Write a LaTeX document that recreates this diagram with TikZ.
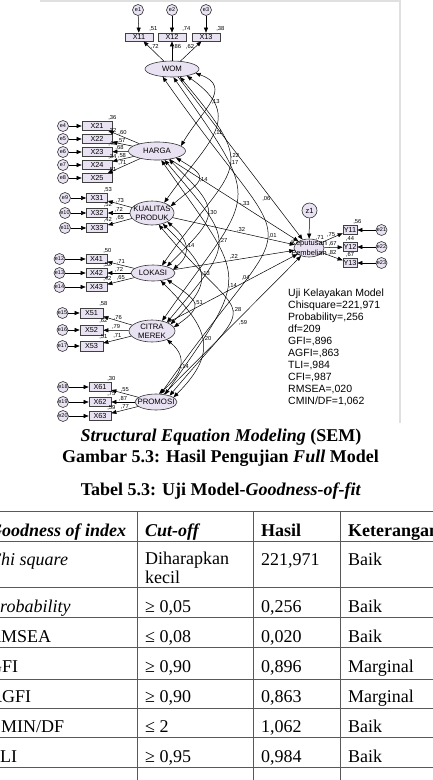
\documentclass[tikz,border=0pt]{standalone}
\usepackage{fontspec}
\setmainfont{Liberation Serif}
\newfontfamily\amosfont{Liberation Sans}
\usepackage{tikz}
\usetikzlibrary{shapes.geometric}
\usetikzlibrary{arrows.meta}
\usepackage{xcolor}
\definecolor{lav}{RGB}{233,226,243}

\tikzset{
  latent/.style={ellipse, draw=black!80, fill=lav, line width=0.6pt, inner sep=0pt},
  ltxt/.style={font=\amosfont\fontsize{7.8}{9}\selectfont, align=center, inner sep=0pt},
  obs/.style={rectangle, draw=black!75, fill=lav, line width=0.7pt, inner sep=0pt, minimum height=9pt, font=\amosfont\fontsize{7.3}{8}\selectfont},
  err/.style={circle, draw=black!80, fill=lav, line width=0.6pt, inner sep=0pt, minimum size=11pt, font=\amosfont\fontsize{5.5}{6}\selectfont},
  reg/.style={-{Triangle[length=5pt,width=4pt]}, line width=0.5pt},
  cov/.style={{Triangle[length=5pt,width=4pt]}-{Triangle[length=5pt,width=4pt]}, line width=0.5pt},
  num/.style={font=\amosfont\fontsize{5.8}{6}\selectfont, inner sep=0.8pt},
  r2/.style={num, anchor=south},
  capline/.style={anchor=base, inner sep=0pt, font=\bfseries\fontsize{18}{20}\selectfont},
  cell/.style={anchor=base west, inner sep=0pt, font=\fontsize{18}{20}\selectfont},
  tabline/.style={draw=black!65, line width=0.8pt}
}

\begin{document}
\begin{tikzpicture}[x=1pt,y=-1pt]
\useasboundingbox (0,0) rectangle (433,780);

\draw[black!12, line width=1.2pt] (40,1) -- (400,1) -- (400,423);

\node[latent, minimum width=54pt, minimum height=16pt] (wom) at (172,69) {};
\node[ltxt] (womtext) at (wom) {WOM};
\node[latent, minimum width=57pt, minimum height=18pt] (harga) at (157,151) {};
\node[ltxt] (hargatext) at (harga) {HARGA};
\node[latent, minimum width=44pt, minimum height=24pt] (kual) at (152,213) {};
\node[ltxt] (kualtext) at (kual) {KUALITAS\\PRODUK};
\node[latent, minimum width=44pt, minimum height=16pt] (lok) at (153,273) {};
\node[ltxt] (loktext) at (lok) {LOKASI};
\node[latent, minimum width=46pt, minimum height=22pt] (cit) at (152,331) {};
\node[ltxt] (cittext) at (cit) {CITRA\\MEREK};
\node[latent, minimum width=42pt, minimum height=16pt] (prom) at (156,402) {};
\node[ltxt] (promtext) at (prom) {PROMOSI};
\node[latent, minimum width=30pt, minimum height=18pt, label={[r2]north east:{,71}}] (kp) at (309,248) {};
\node[ltxt, font=\amosfont\fontsize{7.5}{9.5}\selectfont] (kptext) at (kp) {Keputusan\\Pembelian};
\node[err, minimum size=15pt, font=\amosfont\fontsize{7.5}{8}\selectfont] (z1) at (309.5,210.5) {z1};

\node[err] (e1) at (138,10) {e1};
\node[err] (e2) at (172,10) {e2};
\node[err] (e3) at (206,10) {e3};
\node[obs, minimum width=28pt, minimum height=8pt, label={[r2]north east:{,51}}] (x11) at (139,37) {X11};
\node[obs, minimum width=28pt, minimum height=8pt, label={[r2]north east:{,74}}] (x12) at (172,37) {X12};
\node[obs, minimum width=28pt, minimum height=8pt, label={[r2]north east:{,38}}] (x13) at (206,37) {X13};
\draw[reg] (e1) -- (x11);
\draw[reg] (e2) -- (x12);
\draw[reg] (e3) -- (x13);
\draw[reg] (wom) -- node[num, pos=.7, right] {,72} (x11);
\draw[reg] (wom) -- node[num, pos=.7, right] {,86} (x12);
\draw[reg] (wom) -- node[num, pos=.7, left] {,62} (x13);

\node[err] (e4) at (63,126) {e4};
\node[err] (e5) at (63,139) {e5};
\node[err] (e6) at (63,152) {e6};
\node[err] (e7) at (63,165) {e7};
\node[err] (e8) at (63,178) {e8};
\node[obs, minimum width=30pt, label={[r2]north east:{,36}}] (x21) at (97,126) {X21};
\node[obs, minimum width=30pt, label={[r2]north east:{,32}}] (x22) at (97,139) {X22};
\node[obs, minimum width=30pt, label={[r2]north east:{,46}}] (x23) at (97,152) {X23};
\node[obs, minimum width=30pt, label={[r2]north east:{,34}}] (x24) at (97,165) {X24};
\node[obs, minimum width=30pt, label={[r2]north east:{,51}}] (x25) at (97,178) {X25};
\draw[reg] (e4) -- (x21);
\draw[reg] (e5) -- (x22);
\draw[reg] (e6) -- (x23);
\draw[reg] (e7) -- (x24);
\draw[reg] (e8) -- (x25);
\draw[reg] (harga) -- node[num, pos=.55, above] {,60} (x21);
\draw[reg] (harga) -- node[num, pos=.55, above] {,57} (x22);
\draw[reg] (harga) -- node[num, pos=.55, above] {,68} (x23);
\draw[reg] (harga) -- node[num, pos=.55, above] {,58} (x24);
\draw[reg] (harga) -- node[num, pos=.55, above] {,71} (x25);

\node[err] (e9) at (65,198) {e9};
\node[err] (e10) at (65,213) {e10};
\node[err] (e11) at (65,228) {e11};
\node[obs, minimum width=21pt, label={[r2]north east:{,53}}] (x31) at (97,198) {X31};
\node[obs, minimum width=21pt, label={[r2]north east:{,52}}] (x32) at (97,213) {X32};
\node[obs, minimum width=21pt, label={[r2]north east:{,42}}] (x33) at (97,228) {X33};
\draw[reg] (e9) -- (x31);
\draw[reg] (e10) -- (x32);
\draw[reg] (e11) -- (x33);
\draw[reg] (kual) -- node[num, pos=.5, above] {,73} (x31);
\draw[reg] (kual) -- node[num, pos=.5, above] {,72} (x32);
\draw[reg] (kual) -- node[num, pos=.5, above] {,65} (x33);

\node[err] (e12) at (59.5,259) {e12};
\node[err] (e13) at (59.5,273) {e13};
\node[err] (e14) at (59.5,287) {e14};
\node[obs, minimum width=21pt, label={[r2]north east:{,50}}] (x41) at (96.5,259) {X41};
\node[obs, minimum width=21pt, label={[r2]north east:{,52}}] (x42) at (96.5,273) {X42};
\node[obs, minimum width=21pt, label={[r2]north east:{,42}}] (x43) at (96.5,287) {X43};
\draw[reg] (e12) -- (x41);
\draw[reg] (e13) -- (x42);
\draw[reg] (e14) -- (x43);
\draw[reg] (lok) -- node[num, pos=.5, above] {,71} (x41);
\draw[reg] (lok) -- node[num, pos=.5, above] {,72} (x42);
\draw[reg] (lok) -- node[num, pos=.5, above] {,65} (x43);

\node[err] (e15) at (62.5,313) {e15};
\node[err] (e16) at (62.5,330) {e16};
\node[err] (e17) at (62.5,346) {e17};
\node[obs, minimum width=23pt, minimum height=10pt, label={[r2]north east:{,58}}] (x51) at (91.5,313) {X51};
\node[obs, minimum width=23pt, minimum height=10pt, label={[r2]north east:{,62}}] (x52) at (91.5,330) {X52};
\node[obs, minimum width=23pt, minimum height=10pt, label={[r2]north east:{,51}}] (x53) at (91.5,346) {X53};
\draw[reg] (e15) -- (x51);
\draw[reg] (e16) -- (x52);
\draw[reg] (e17) -- (x53);
\draw[reg] (cit) -- node[num, pos=.5, above] {,76} (x51);
\draw[reg] (cit) -- node[num, pos=.5, above] {,79} (x52);
\draw[reg] (cit) -- node[num, pos=.5, above] {,71} (x53);

\node[err] (e18) at (63,387) {e18};
\node[err] (e19) at (63,402) {e19};
\node[err] (e20) at (63,416) {e20};
\node[obs, minimum width=22pt, label={[r2]north east:{,30}}] (x61) at (100,387) {X61};
\node[obs, minimum width=22pt, label={[r2]north east:{,75}}] (x62) at (100,402) {X62};
\node[obs, minimum width=22pt, label={[r2]north east:{,59}}] (x63) at (100,416) {X63};
\draw[reg] (e18) -- (x61);
\draw[reg] (e19) -- (x62);
\draw[reg] (e20) -- (x63);
\draw[reg] (prom) -- node[num, pos=.5, above] {,55} (x61);
\draw[reg] (prom) -- node[num, pos=.5, above] {,87} (x62);
\draw[reg] (prom) -- node[num, pos=.5, above] {,77} (x63);

\node[obs, minimum width=14pt, label={[r2]north east:{,56}}] (y11) at (350,230) {Y11};
\node[obs, minimum width=14pt, label={[r2]north:{,44}}] (y12) at (350,247) {Y12};
\node[obs, minimum width=14pt, label={[r2]north:{,67}}] (y13) at (350,263) {Y13};
\node[err] (e21) at (381.5,230) {e21};
\node[err] (e22) at (381.5,247) {e22};
\node[err] (e23) at (381.5,263) {e23};
\draw[reg] (e21) -- (y11);
\draw[reg] (e22) -- (y12);
\draw[reg] (e23) -- (y13);
\draw[reg] (kp) -- node[num, pos=.45, above] {,75} (y11);
\draw[reg] (kp) -- node[num, pos=.45, above] {,67} (y12);
\draw[reg] (kp) -- node[num, pos=.5, above] {,82} (y13);
\draw[reg] (z1) -- (kp);

\draw[reg] (wom) -- node[num, pos=.75, left] {,06} (kp);
\draw[reg] (harga) -- node[num, pos=.58, above] {-,33} (kp);
\draw[reg] (kual) -- node[num, pos=.56, above] {,32} (kp);
\draw[reg] (lok) -- node[num, pos=.5, above] {,22} (kp);
\draw[reg] (cit) -- node[num, pos=.6, above] {,04} (kp);
\draw[reg] (prom) -- node[num, pos=.54, below right] {,59} (kp);

\draw[cov] (wom.-10) to[out=-20, in=60, distance=41pt] node[num, right] {,13} (harga.12);
\draw[cov] (wom.-25) to[out=-35, in=55, distance=73pt] node[num, right] {,11} (kual.40);
\draw[cov] (wom.-45) to[out=-50, in=55, distance=127pt] node[num, pos=.4, right] {,22} (lok.40);
\draw[cov] (wom.-80) to[out=-55, in=55, distance=161pt] node[num, pos=.3, right] {,17} (cit.45);
\draw[cov] (wom.-140) to[out=-55, in=55, distance=246pt] node[num, right] {,01} (prom.60);
\draw[cov] (harga.-20) to[out=-30, in=40, distance=41pt] node[num, right] {,14} (kual.20);
\draw[cov] (harga.-35) to[out=-45, in=45, distance=75pt] node[num, right] {,30} (lok.25);
\draw[cov] (harga.-50) to[out=-50, in=50, distance=109pt] node[num, right] {,27} (cit.30);
\draw[cov] (harga.-65) to[out=-55, in=55, distance=151pt] node[num, pos=.55, right] {,14} (prom.40);
\draw[cov] (kual.-30) to[out=-40, in=40, distance=26pt] node[num, right] {,14} (lok.10);
\draw[cov] (kual.-45) to[out=-45, in=45, distance=64pt] node[num, right] {,13} (cit.20);
\draw[cov] (kual.-60) to[out=-50, in=50, distance=141pt] node[num, right] {,28} (prom.25);
\draw[cov] (lok.-25) to[out=-35, in=35, distance=38pt] node[num, right] {,51} (cit.10);
\draw[cov] (lok.-45) to[out=-45, in=45, distance=66pt] node[num, right] {,20} (prom.15);
\draw[cov] (cit.-30) to[out=-40, in=40, distance=29pt] node[num, right] {,14} (prom.70);

\node[anchor=north west, inner sep=0pt, align=left, font=\amosfont\fontsize{10.5}{12}\selectfont] (fit) at (288,288.5) {Uji Kelayakan Model\\Chisquare=221,971\\Probability=,256\\df=209\\GFI=,896\\AGFI=,863\\TLI=,984\\CFI=,987\\RMSEA=,020\\CMIN/DF=1,062};

\node[capline] (cap1) at (221,441) {\textit{Structural Equation Modeling} (SEM)};
\node[capline] (cap2) at (220.5,462) {Gambar 5.3: Hasil Pengujian \textit{Full} Model};
\node[capline] (cap3) at (221,495) {Tabel 5.3: Uji Model-\textit{Goodness-of-fit}};

\draw[tabline] (-20,511) -- (460,511);
\draw[tabline] (-20,541) -- (460,541);
\draw[tabline] (-20,587) -- (460,587);
\draw[tabline] (-20,617) -- (460,617);
\draw[tabline] (-20,647) -- (460,647);
\draw[tabline] (-20,679) -- (460,679);
\draw[tabline] (-20,708) -- (460,708);
\draw[tabline] (-20,737) -- (460,737);
\draw[tabline] (-20,767) -- (460,767);
\draw[tabline] (137,511) -- (137,790);
\draw[tabline] (253,511) -- (253,790);
\draw[tabline] (340,511) -- (340,790);

\node[cell] (h1) at (-11,536) {\textbf{\textit{Goodness of index}}};
\node[cell] (h2) at (145,536) {\textbf{\textit{Cut-off}}};
\node[cell] (h3) at (261,536) {\textbf{Hasil}};
\node[cell] (h4) at (348,536) {\textbf{Keterangan}};

\node[cell] (a1) at (-11,565) {\textit{Chi square}};
\node[cell] (a2) at (145,564) {Diharapkan};
\node[cell] (a2b) at (145,583) {kecil};
\node[cell] (a3) at (261,565) {221,971};
\node[cell] (a4) at (348,565) {Baik};

\node[cell] (b1) at (-11,612) {\textit{Probability}};
\node[cell] (b2) at (145,612) {≥ 0,05};
\node[cell] (b3) at (261,612) {0,256};
\node[cell] (b4) at (348,612) {Baik};

\node[cell] (c1) at (-11,642) {RMSEA};
\node[cell] (c2) at (145,642) {≤ 0,08};
\node[cell] (c3) at (261,642) {0,020};
\node[cell] (c4) at (348,642) {Baik};

\node[cell] (d1) at (-11,672) {GFI};
\node[cell] (d2) at (145,672) {≥ 0,90};
\node[cell] (d3) at (261,672) {0,896};
\node[cell] (d4) at (348,672) {Marginal};

\node[cell] (f1) at (-11,702) {AGFI};
\node[cell] (f2) at (145,702) {≥ 0,90};
\node[cell] (f3) at (261,702) {0,863};
\node[cell] (f4) at (348,702) {Marginal};

\node[cell] (g1) at (-11,732) {CMIN/DF};
\node[cell] (g2) at (145,732) {≤ 2};
\node[cell] (g3) at (261,732) {1,062};
\node[cell] (g4) at (348,732) {Baik};

\node[cell] (k1) at (-11,762) {TLI};
\node[cell] (k2) at (145,762) {≥ 0,95};
\node[cell] (k3) at (261,762) {0,984};
\node[cell] (k4) at (348,762) {Baik};

\end{tikzpicture}
\end{document}
